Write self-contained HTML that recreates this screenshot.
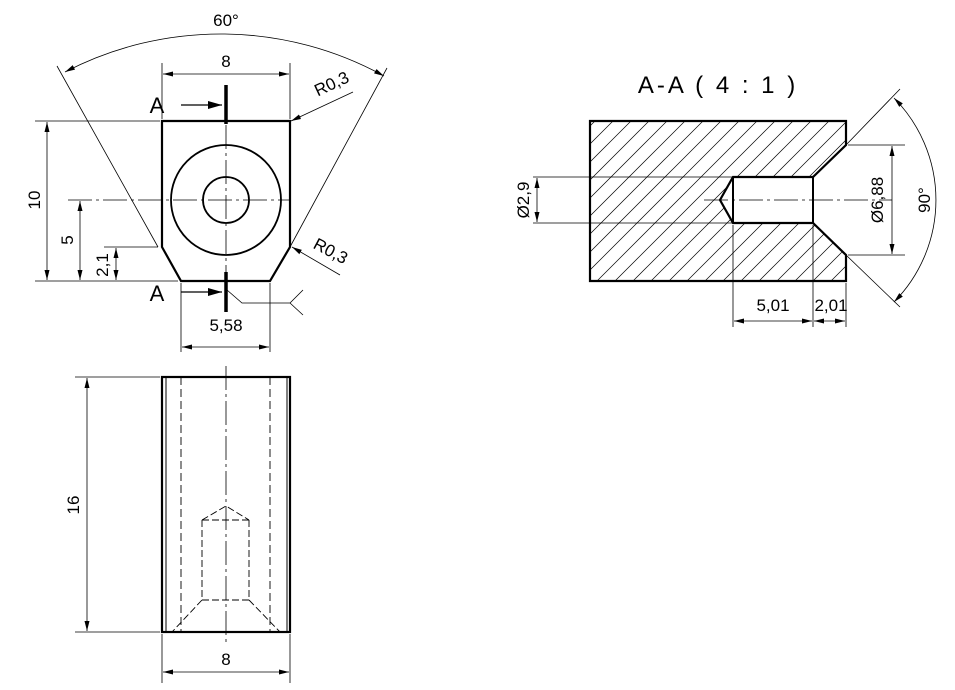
<!DOCTYPE html>
<html><head><meta charset="utf-8"><style>
html,body{margin:0;padding:0;background:#fff;}
svg{display:block}
text{font-family:"Liberation Sans","DejaVu Sans",sans-serif;fill:#000;}
</style></head><body>
<svg width="955" height="690" viewBox="0 0 955 690" xmlns="http://www.w3.org/2000/svg">
<defs>
<marker id="ar" viewBox="0 0 10 6" refX="10" refY="3" markerWidth="10" markerHeight="6" orient="auto-start-reverse" markerUnits="userSpaceOnUse"><path d="M0,0.5 L10,3 L0,5.5 Z" fill="#000"/></marker>
<marker id="ab" viewBox="0 0 14 8" refX="14" refY="4" markerWidth="14" markerHeight="8" orient="auto" markerUnits="userSpaceOnUse"><path d="M0,0 L14,4 L0,8 Z" fill="#000"/></marker>
<clipPath id="hc"><path clip-rule="evenodd" d="M590,121 H846 V281 H590 Z M846,145 L813,177 H733 L720,200 L733,223 H813 L846,255 Z"/></clipPath>
</defs>
<g fill="none" stroke="#000">
<path d="M162,121 H290 V247 L270,281 H181 L162,247 Z" stroke-width="2.2"/>
<circle cx="226" cy="200" r="55" stroke-width="1.8"/>
<circle cx="226" cy="200" r="23" stroke-width="1.8"/>
<path d="M68,200 H290" stroke-width="0.8" stroke-dasharray="24,4,3,4"/>
<path d="M226,125 V272" stroke-width="0.8" stroke-dasharray="24,4,3,4"/>
<path d="M226,85 V124 M226,272 V312" stroke-width="3.5"/>
<path d="M181,105 H222" stroke-width="1.2" marker-end="url(#ab)"/>
<path d="M181,292 H222" stroke-width="1.2" marker-end="url(#ab)"/>
<path d="M57,66 L158,247 M387,68 L290,247" stroke-width="0.8"/>
<path d="M65,72 A338,338 0 0 1 384,76" stroke-width="0.8" marker-start="url(#ar)" marker-end="url(#ar)"/>
<path d="M162,63 V119 M290,63 V119" stroke-width="0.8"/>
<path d="M163,74 H289" stroke-width="0.8" marker-start="url(#ar)" marker-end="url(#ar)"/>
<path d="M35,121 H160 M35,281 H178" stroke-width="0.8"/>
<path d="M47,122 V280" stroke-width="0.8" marker-start="url(#ar)" marker-end="url(#ar)"/>
<path d="M80,201 V280" stroke-width="0.8" marker-start="url(#ar)" marker-end="url(#ar)"/>
<path d="M104,247 H158" stroke-width="0.8"/>
<path d="M116,248 V280" stroke-width="0.8" marker-start="url(#ar)" marker-end="url(#ar)"/>
<path d="M181,283 V352 M270,283 V352" stroke-width="0.8"/>
<path d="M182,347 H269" stroke-width="0.8" marker-start="url(#ar)" marker-end="url(#ar)"/>
<path d="M353,92 L291,121" stroke-width="0.8" marker-end="url(#ar)"/>
<path d="M340,275 L292,247" stroke-width="0.8" marker-end="url(#ar)"/>
<path d="M227,290 L242,303 H290 L303,290 M290,303 L303,315" stroke-width="0.8"/>

<rect x="162" y="377" width="128" height="255" stroke-width="2.2"/>
<path d="M166,377 V632 M287,377 V632" stroke-width="1"/>
<path d="M181,377 V632 M270,377 V632" stroke-width="0.9" stroke-dasharray="8,4"/>
<path d="M202,520 V600 M249,520 V600 M202,520 H249 M202,600 H249 M202,520 L226,506 L249,520 M202,600 L172,632 M249,600 L280,632" stroke-width="0.9" stroke-dasharray="7,3"/>
<path d="M226,366 V642" stroke-width="0.8" stroke-dasharray="24,4,3,4"/>
<path d="M75,377 H160 M75,632 H160" stroke-width="0.8"/>
<path d="M87,378 V631" stroke-width="0.8" marker-start="url(#ar)" marker-end="url(#ar)"/>
<path d="M162,634 V683 M290,634 V683" stroke-width="0.8"/>
<path d="M163,672 H289" stroke-width="0.8" marker-start="url(#ar)" marker-end="url(#ar)"/>

<g clip-path="url(#hc)" stroke-width="0.7">
<path d="M560,300 L760,100 M578,300 L778,100 M596,300 L796,100 M614,300 L814,100 M632,300 L832,100 M650,300 L850,100 M668,300 L868,100 M686,300 L886,100 M704,300 L904,100 M722,300 L922,100 M740,300 L940,100 M758,300 L958,100 M776,300 L976,100 M794,300 L994,100 M812,300 L1012,100 M830,300 L1030,100 M542,300 L742,100 M524,300 L724,100 M506,300 L706,100 M488,300 L688,100 M470,300 L670,100 M452,300 L652,100 M434,300 L634,100 M416,300 L616,100 M398,300 L598,100"/>
</g>
<path d="M590,121 H846 V145 L813,177 H733 L720,200 L733,223 H813 L846,255 V281 H590 Z" stroke-width="2.2"/>
<path d="M733,177 V223 M813,177 V223" stroke-width="2"/>
<path d="M704,200 H892" stroke-width="0.8" stroke-dasharray="24,4,3,4"/>
<path d="M533,177 H733 M533,223 H733" stroke-width="0.8"/>
<path d="M537,178 V222" stroke-width="0.8" marker-start="url(#ar)" marker-end="url(#ar)"/>
<path d="M848,145 H905 M848,255 H905" stroke-width="0.8"/>
<path d="M892,146 V254" stroke-width="0.8" marker-start="url(#ar)" marker-end="url(#ar)"/>
<path d="M846,145 L900,89 M846,255 L900,307" stroke-width="0.8"/>
<path d="M894,98 A145,145 0 0 1 894,302" stroke-width="0.8" marker-start="url(#ar)" marker-end="url(#ar)"/>
<path d="M733,225 V327 M813,225 V327 M846,283 V327" stroke-width="0.8"/>
<path d="M734,321 H812" stroke-width="0.8" marker-start="url(#ar)" marker-end="url(#ar)"/>
<path d="M814,321 H845" stroke-width="0.8" marker-start="url(#ar)" marker-end="url(#ar)"/>
</g>

<g font-size="17">
<text x="226" y="26" text-anchor="middle">60°</text>
<text x="226" y="67" text-anchor="middle">8</text>
<text x="157" y="113" text-anchor="middle" font-size="22">A</text>
<text x="157" y="301" text-anchor="middle" font-size="22">A</text>
<text transform="translate(40,200) rotate(-90)" text-anchor="middle">10</text>
<text transform="translate(73,240) rotate(-90)" text-anchor="middle">5</text>
<text transform="translate(108,265) rotate(-90)" text-anchor="middle">2,1</text>
<text x="226" y="331" text-anchor="middle">5,58</text>
<text transform="translate(334,89) rotate(-25)" text-anchor="middle">R0,3</text>
<text transform="translate(328,256) rotate(28)" text-anchor="middle">R0,3</text>
<text transform="translate(79,505) rotate(-90)" text-anchor="middle">16</text>
<text x="226" y="665" text-anchor="middle">8</text>
<text x="718" y="93" text-anchor="middle" font-size="24" letter-spacing="3">A-A ( 4 : 1 )</text>
<text transform="translate(529,200) rotate(-90)" text-anchor="middle">Ø2,9</text>
<text transform="translate(883,200) rotate(-90)" text-anchor="middle">Ø6,88</text>
<text transform="translate(930,200) rotate(-90)" text-anchor="middle">90°</text>
<text x="773" y="311" text-anchor="middle">5,01</text>
<text x="831" y="311" text-anchor="middle">2,01</text>
</g>
</svg>
</body></html>
